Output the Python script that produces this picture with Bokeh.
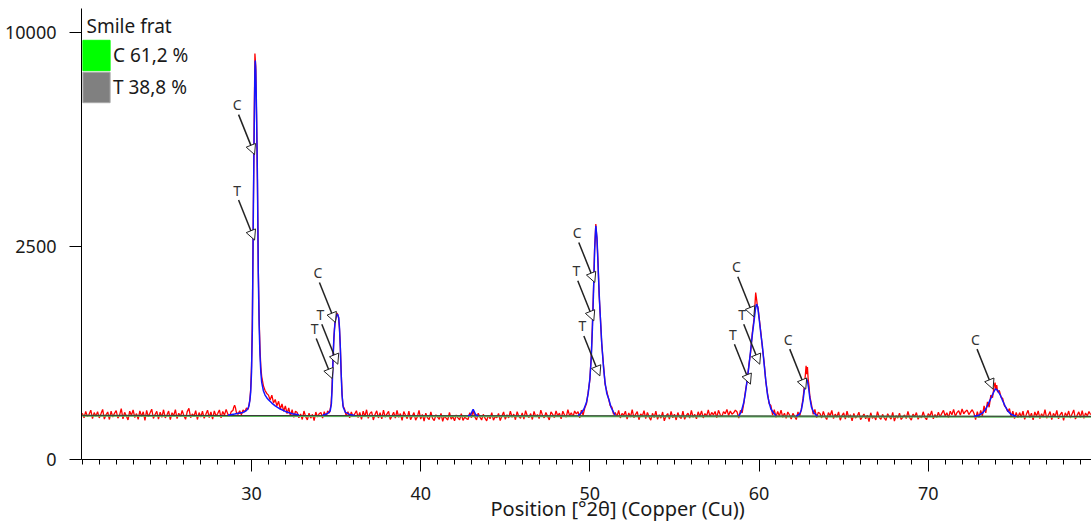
import numpy as np
from bokeh.plotting import figure
from bokeh.models import (Range1d, FixedTicker, Arrow, NormalHead, ColumnDataSource,
                          Legend, LegendItem, Label, Title)
from bokeh.core.properties import value
from bokeh.embed import file_html
from bokeh.resources import INLINE

FONT = "Noto Sans"

# ---------------- data ----------------
x_ticks = [30, 40, 50, 60, 70]
x_minor = list(range(20, 80))
y_tick_counts = [0, 2500, 10000]
y_tick_labels = ["0", "2500", "10000"]
x_label = "Position [°2θ] (Copper (Cu))"

legend_title = "Smile frat"
phase_labels = ["C 61,2 %", "T 38,8 %"]
phase_colors = ["#00ff00", "#808080"]
phase_edges = ["#00ff00", "#a8a8a8"]

# background (green) and calculated background (dark)
bg_x = [20.0, 50.0, 80.0]
bg_counts = [105, 103, 100]
calc_bg_counts = [107, 105, 102]

# observed counts between peaks, measured every 0.1 deg
obs_bg_a_start = 20.0
obs_bg_a = [118, 96, 127, 101, 112, 134, 92, 121, 103, 126,
            95, 115, 138, 90, 110, 124, 88, 129, 99, 117,
            131, 94, 108, 142, 91, 122, 104, 86, 128, 107,
            135, 97, 116, 89, 130, 102, 125, 84, 133, 100,
            119, 139, 93, 111, 127, 90, 123, 98, 136, 95,
            109, 129, 87, 120, 105, 137, 92, 118, 101, 132,
            106, 89, 126, 144, 96, 114, 103, 131, 88, 121,
            99, 128, 93, 112, 134, 97, 124, 90, 130, 104,
            116, 135, 95, 127, 108, 138, 113]
obs_bg_b_start = 32.7
obs_bg_b = [121, 96, 114, 88, 129, 101, 86, 118, 94, 112, 83, 124, 99, 115, 122]
obs_bg_c_start = 36.1
obs_bg_c = [114, 131, 97, 122, 89, 128, 102, 136, 93, 117,
            125, 86, 111, 130, 95, 120, 91, 134, 99, 113,
            127, 88, 104, 123, 94, 132, 98, 116, 84, 126,
            108, 92, 129, 87, 103, 121, 85, 100, 133, 90,
            112, 81, 118, 96, 88, 124, 93, 83, 110, 99,
            89, 117, 80, 105, 94, 86, 122, 90, 101, 82,
            109, 95, 87, 115, 84, 98, 92]
obs_bg_d_start = 43.5
obs_bg_d = [99, 86, 112, 94, 82, 108, 91, 121, 85, 101,
            96, 117, 83, 104, 124, 89, 110, 95, 128, 98,
            113, 87, 126, 102, 93, 119, 90, 131, 105, 97,
            116, 88, 127, 100, 111, 92, 134, 107, 95, 122,
            103, 86, 125, 112, 96, 130, 104, 118, 91, 128,
            109, 99, 136, 106, 120, 100, 129, 114]
obs_bg_e_start = 51.5
obs_bg_e = [121, 101, 133, 95, 117, 108, 128, 90, 119, 99,
            137, 96, 112, 126, 87, 114, 103, 131, 92, 122,
            100, 85, 117, 97, 129, 89, 110, 94, 124, 82,
            105, 116, 90, 127, 96, 113, 86, 121, 99, 93,
            128, 89, 107, 118, 94, 132, 98, 112, 91, 125,
            102, 130, 95, 116, 104, 135, 100, 122, 109, 127,
            96, 133, 111, 101, 126, 115, 138, 106, 129, 113,
            120, 134, 124]
obs_bg_f_start = 61.1
obs_bg_f = [127, 104, 134, 98, 118, 93, 124, 109, 90, 117, 102]
obs_bg_g_start = 63.6
obs_bg_g = [116, 95, 127, 101, 88, 121, 105, 132, 92, 113,
            99, 124, 85, 106, 119, 90, 128, 97, 110, 82,
            117, 94, 103, 123, 87, 100, 114, 91, 108, 79,
            120, 93, 104, 86, 126, 98, 89, 112, 95, 84,
            115, 101, 90, 122, 81, 106, 94, 118, 88, 99,
            109, 92, 127, 96, 85, 113, 100, 121, 89, 105,
            95, 125, 98, 87, 116, 103, 130, 91, 111, 97,
            123, 100, 117, 133, 104, 120, 96, 128, 110, 138,
            102, 121, 131, 108, 140, 115, 127, 134, 111, 124,
            136]
obs_bg_h_start = 75.4
obs_bg_h = [121, 98, 128, 89, 112, 133, 96, 118, 86, 124,
            103, 130, 92, 115, 99, 137, 94, 108, 126, 88,
            117, 101, 132, 91, 111, 123, 84, 120, 102, 129,
            95, 114, 135, 90, 107, 125, 97, 131, 93, 119,
            104, 127, 110]

# observed counts around the peaks
obs_p1_x = [28.7, 28.8, 28.9, 28.95, 29.0, 29.05, 29.1, 29.2, 29.3, 29.4, 29.5, 29.6, 29.7, 29.8,
            29.85, 29.9, 29.95, 30.0, 30.05, 30.1, 30.15, 30.2, 30.25, 30.3, 30.35, 30.4, 30.45,
            30.5, 30.55, 30.6, 30.7, 30.8, 30.9, 31.0, 31.1, 31.2, 31.3, 31.4, 31.5, 31.6, 31.7,
            31.8, 31.9, 32.0, 32.1, 32.2, 32.3, 32.4, 32.5, 32.6]
obs_p1_y = [102, 126, 132, 150, 162, 148, 124, 112, 130, 110, 135, 124, 146, 138,
            162, 195, 270, 480, 1100, 3100, 5900, 9060, 8500, 6300, 4200, 2000, 1100,
            680, 470, 380, 300, 262, 240, 228, 195, 228, 176, 198, 158, 186, 140,
            170, 128, 158, 116, 146, 104, 136, 98, 128]
obs_p2_x = [34.2, 34.3, 34.4, 34.5, 34.6, 34.65, 34.7, 34.75, 34.8, 34.85, 34.9, 34.95, 35.0,
            35.05, 35.1, 35.15, 35.2, 35.25, 35.3, 35.35, 35.4, 35.5, 35.6, 35.7, 35.8, 35.9, 36.0]
obs_p2_y = [94, 126, 100, 130, 118, 140, 165, 260, 470, 720, 930, 1060, 1120,
            1180, 1150, 1100, 930, 700, 420, 240, 160, 140, 104, 126, 96, 124, 102]
obs_p43_x = [42.8, 42.9, 43.0, 43.1, 43.2, 43.3, 43.4]
obs_p43_y = [88, 121, 96, 132, 100, 86, 118]
obs_p3_x = [49.3, 49.4, 49.5, 49.6, 49.7, 49.8, 49.9, 50.0, 50.08, 50.15, 50.22, 50.28, 50.35,
            50.42, 50.48, 50.55, 50.62, 50.7, 50.8, 50.9, 51.0, 51.1, 51.2, 51.3, 51.4]
obs_p3_y = [126, 95, 134, 108, 146, 172, 250, 350, 590, 990, 1650, 2450, 3050,
            2650, 2150, 1470, 1120, 730, 500, 310, 255, 205, 160, 150, 112]
obs_p4_x = [58.8, 58.9, 59.0, 59.1, 59.2, 59.3, 59.4, 59.5, 59.6, 59.7, 59.75, 59.8, 59.85,
            59.9, 59.95, 60.0, 60.1, 60.2, 60.3, 60.4, 60.5, 60.6, 60.7, 60.8, 60.9, 61.0]
obs_p4_y = [94, 132, 120, 175, 262, 340, 495, 630, 880, 1080, 1280, 1533, 1420,
            1300, 1250, 1120, 900, 680, 520, 330, 240, 170, 160, 108, 136, 98]
obs_p5_x = [62.2, 62.3, 62.4, 62.5, 62.6, 62.68, 62.75, 62.78, 62.82, 62.86, 62.9, 62.95,
            63.0, 63.1, 63.2, 63.3, 63.4, 63.5]
obs_p5_y = [88, 124, 102, 140, 205, 300, 420, 482, 400, 470, 360, 300,
            220, 165, 112, 138, 96, 122]
obs_p6_x = [72.7, 72.8, 72.9, 73.0, 73.1, 73.2, 73.3, 73.4, 73.5, 73.6, 73.7, 73.8, 73.9,
            73.95, 74.0, 74.05, 74.1, 74.2, 74.3, 74.4, 74.5, 74.6, 74.7, 74.8, 74.9, 75.0,
            75.1, 75.2, 75.3]
obs_p6_y = [118, 88, 126, 96, 132, 104, 158, 120, 182, 150, 228, 210, 300,
            325, 270, 305, 250, 262, 215, 205, 160, 148, 125, 142, 100, 128,
            92, 122, 96]

# calculated profile around the peaks
calc_p1_x = [28.6, 29.0, 29.5, 29.7, 29.8, 29.85, 29.9, 29.95, 30.0, 30.05, 30.1, 30.15, 30.2,
             30.22, 30.25, 30.3, 30.35, 30.4, 30.45, 30.5, 30.55, 30.6, 30.7, 30.8, 30.9, 31.0,
             31.2, 31.4, 31.7, 32.0, 32.4, 32.8]
calc_p1_y = [108, 114, 122, 132, 145, 160, 190, 250, 420, 950, 3000, 5600, 8300,
             8750, 8350, 6500, 4300, 1900, 1000, 600, 420, 330, 260, 228, 210, 196,
             175, 158, 140, 127, 115, 110]
calc_p2_x = [34.2, 34.5, 34.65, 34.72, 34.77, 34.82, 34.87, 34.93, 35.0, 35.08, 35.15, 35.2,
             35.25, 35.3, 35.35, 35.42, 35.55, 35.8, 36.1]
calc_p2_y = [108, 116, 130, 170, 300, 560, 820, 1020, 1130, 1162, 1110, 950,
             680, 400, 230, 150, 122, 112, 107]
calc_p43_x = [42.8, 42.95, 43.03, 43.1, 43.17, 43.25, 43.4]
calc_p43_y = [105, 110, 125, 139, 125, 110, 105]
calc_p3_x = [49.3, 49.5, 49.65, 49.8, 49.9, 50.0, 50.08, 50.15, 50.22, 50.28, 50.35, 50.42,
             50.48, 50.55, 50.62, 50.7, 50.8, 50.9, 51.0, 51.12, 51.25, 51.4, 51.5]
calc_p3_y = [106, 120, 140, 180, 240, 360, 560, 950, 1600, 2400, 3004, 2700,
             2100, 1500, 1100, 750, 480, 320, 240, 200, 150, 122, 108]
calc_p4_x = [58.8, 58.95, 59.1, 59.2, 59.3, 59.4, 59.5, 59.6, 59.7, 59.78, 59.85, 59.92,
             60.0, 60.1, 60.2, 60.3, 60.4, 60.5, 60.6, 60.7, 60.85, 61.0]
calc_p4_y = [105, 125, 180, 250, 350, 480, 650, 850, 1050, 1230, 1327, 1280,
             1100, 880, 700, 500, 340, 230, 175, 140, 120, 106]
calc_p5_x = [62.2, 62.4, 62.5, 62.6, 62.68, 62.75, 62.8, 62.86, 62.93, 63.0, 63.1, 63.25, 63.45]
calc_p5_y = [104, 115, 135, 190, 270, 335, 357, 340, 280, 210, 150, 118, 104]
calc_p6_x = [72.7, 73.0, 73.2, 73.4, 73.55, 73.7, 73.85, 73.97, 74.1, 74.25, 74.4, 74.55,
             74.7, 74.9, 75.2]
calc_p6_y = [103, 108, 118, 140, 170, 205, 245, 274, 262, 230, 190, 155,
             130, 112, 103]

# reference peak markers
ann_label = ["C", "T", "C", "T", "T", "C", "T", "T", "C", "T", "T", "C", "C"]
ann_pos = [30.18, 30.18, 34.96, 35.10, 34.77, 50.29, 50.23, 50.59, 59.69, 60.04, 59.49, 62.76, 73.83]
ann_level = [5110, 2647, 1031, 499, 360, 1723, 1057, 384, 1119, 499, 312, 272, 272]

# ---------------- assemble ----------------
STEP = 0.1
bg_segs = [(obs_bg_a_start, obs_bg_a), (obs_bg_b_start, obs_bg_b), (obs_bg_c_start, obs_bg_c),
           (obs_bg_d_start, obs_bg_d), (obs_bg_e_start, obs_bg_e), (obs_bg_f_start, obs_bg_f),
           (obs_bg_g_start, obs_bg_g), (obs_bg_h_start, obs_bg_h)]
pk_obs = [(obs_p1_x, obs_p1_y), (obs_p2_x, obs_p2_y), (obs_p43_x, obs_p43_y),
          (obs_p3_x, obs_p3_y), (obs_p4_x, obs_p4_y), (obs_p5_x, obs_p5_y), (obs_p6_x, obs_p6_y)]
ox, oy = [], []
for s, vals in bg_segs:
    ox += list(np.round(s + STEP * np.arange(len(vals)), 3))
    oy += vals
for xs, ys in pk_obs:
    ox += xs
    oy += ys
order = np.argsort(ox)
obs_x = np.array(ox)[order]
obs_y = np.sqrt(np.array(oy, dtype=float)[order])

calc_sets = [(calc_p1_x, calc_p1_y), (calc_p2_x, calc_p2_y), (calc_p43_x, calc_p43_y),
             (calc_p3_x, calc_p3_y), (calc_p4_x, calc_p4_y), (calc_p5_x, calc_p5_y),
             (calc_p6_x, calc_p6_y)]
calc_xs = [list(a) for a, b in calc_sets]
calc_ys = [list(np.sqrt(np.array(b, dtype=float))) for a, b in calc_sets]

# ---------------- figure ----------------
p = figure(width=1091, height=522, output_backend="svg", toolbar_location=None,
           x_range=Range1d(19.95, 79.65), y_range=Range1d(0, 105.74),
           min_border_left=81, min_border_right=0, min_border_top=8, min_border_bottom=63)
p.outline_line_color = None
p.xgrid.visible = False
p.ygrid.visible = False

p.line(obs_x, obs_y, line_color="#ff0000", line_width=1.3)
p.line(bg_x, list(np.sqrt(bg_counts)), line_color="#5cb85c", line_width=2)
p.line(bg_x, list(np.sqrt(calc_bg_counts)), line_color="#3a3a3a", line_width=1)
p.multi_line(calc_xs, calc_ys, line_color="#1414ff", line_width=1.5)

# peak markers
lv = np.sqrt(np.array(ann_level, dtype=float))
pos = np.array(ann_pos)
DX_A, DY_A = 0.946, 9.38
DX_T, DY_T = 1.034, 11.72
asrc = ColumnDataSource(dict(xs=pos - DX_A, ys=lv + DY_A, xe=pos, ye=lv,
                             tx=pos - DX_T, ty=lv + DY_T, label=ann_label))
p.add_layout(Arrow(end=NormalHead(size=10, fill_color="white", line_color="#222222", line_width=1),
                   source=asrc, x_start="xs", y_start="ys", x_end="xe", y_end="ye",
                   line_color="#222222", line_width=1.5))
p.text(x="tx", y="ty", text="label", source=asrc, text_font=value(FONT), text_font_size="14px",
       text_align="center", text_baseline="middle", text_color="#333333")

# legend: one box per phase (area glyphs are drawn at 80 % of the glyph box)
legend_rows_y = [385, 353]
for lab, c, e, ly in zip(phase_labels, phase_colors, phase_edges, legend_rows_y):
    r = p.quad(left=[np.nan], right=[np.nan], top=[np.nan], bottom=[np.nan],
               fill_color=c, line_color=e)
    p.add_layout(Legend(items=[LegendItem(label=lab, renderers=[r])],
                        location=(-2, ly), glyph_width=34, glyph_height=38,
                        label_height=38, label_standoff=0, spacing=0, padding=0, margin=0,
                        border_line_color=None, background_fill_alpha=0,
                        label_text_font=FONT, label_text_font_size="19px",
                        label_text_color="#1a1a1a"))
p.add_layout(Label(x=5, y=434, x_units="screen", y_units="screen", text=legend_title,
                   text_align="left", text_baseline="alphabetic", text_font=FONT,
                   text_font_size="19px", text_color="#1a1a1a"))

# axes
p.xaxis.ticker = FixedTicker(ticks=x_ticks, minor_ticks=x_minor)
p.yaxis.ticker = FixedTicker(ticks=[float(np.sqrt(c)) for c in y_tick_counts], minor_ticks=[])
p.yaxis.major_label_overrides = {float(np.sqrt(c)): l for c, l in zip(y_tick_counts, y_tick_labels)}
for ax in (p.xaxis, p.yaxis):
    ax.axis_line_color = "black"
    ax.axis_line_width = 1
    ax.major_tick_line_color = "black"
    ax.minor_tick_line_color = "black"
    ax.major_tick_out = 12
    ax.major_tick_in = 0
    ax.minor_tick_out = 5
    ax.minor_tick_in = 0
    ax.major_label_text_font = FONT
    ax.major_label_text_font_size = "18px"
    ax.major_label_text_color = "#1a1a1a"
p.xaxis.major_label_standoff = 15
p.yaxis.major_label_standoff = 13

p.add_layout(Title(text=x_label, align="left", offset=409, vertical_align="top", standoff=-16,
                   text_font=FONT, text_font_size="20px", text_font_style="normal",
                   text_color="#1a1a1a"), "below")

open("out.html", "w").write(file_html(p, INLINE))
